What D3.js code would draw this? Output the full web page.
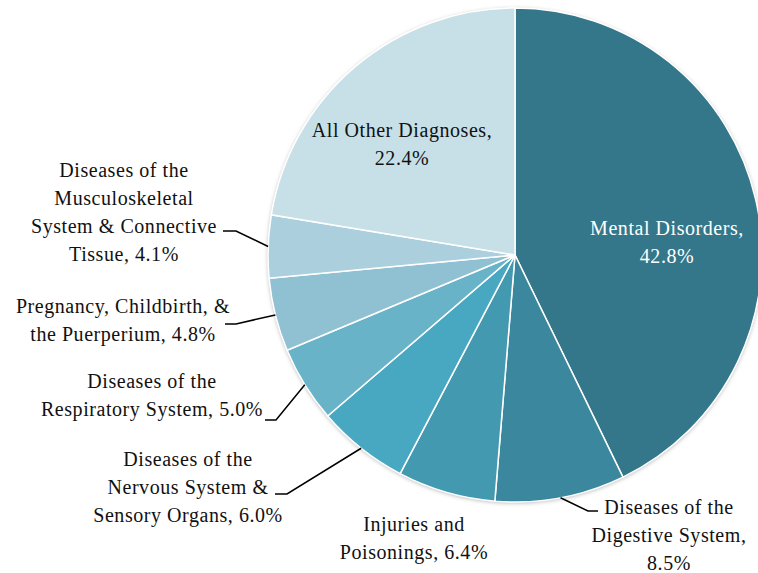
<!DOCTYPE html>
<html>
<head>
<meta charset="utf-8">
<script src="https://cdn.jsdelivr.net/npm/d3@7"></script>
<style>
  body { margin: 0; background: #fff; }
  text { font-family: "Liberation Serif", "Times New Roman", serif; }
</style>
</head>
<body>
<div id="chart"></div>
<script>
const categories = [
  "Mental Disorders",
  "Diseases of the Digestive System",
  "Injuries and Poisonings",
  "Diseases of the Nervous System & Sensory Organs",
  "Diseases of the Respiratory System",
  "Pregnancy, Childbirth, & the Puerperium",
  "Diseases of the Musculoskeletal System & Connective Tissue",
  "All Other Diagnoses"
];
const shares = [42.8, 8.5, 6.4, 6.0, 5.0, 4.8, 4.1, 22.4];
const labelLines = [
  ["Mental Disorders,", "42.8%"],
  ["Diseases of the", "Digestive System,", "8.5%"],
  ["Injuries and", "Poisonings, 6.4%"],
  ["Diseases of the", "Nervous System &", "Sensory Organs, 6.0%"],
  ["Diseases of the", "Respiratory System, 5.0%"],
  ["Pregnancy, Childbirth, &", "the Puerperium, 4.8%"],
  ["Diseases of the", "Musculoskeletal", "System & Connective", "Tissue, 4.1%"],
  ["All Other Diagnoses,", "22.4%"]
];
const colors = ["#34778a", "#3b889e", "#4399b0", "#48a7c1", "#69b3c9", "#90c1d3", "#abcfdc", "#c7dfe7"];

// label layout: text centre + first line y, leader elbow and end (none = no leader)
const layout = [
  { x: 667, y: 228, fill: "#fff" },
  { x: 669, y: 507, elbow: [588, 511], end: [598, 511] },
  { x: 414, y: 524 },
  { x: 188, y: 459, elbow: [287, 494], end: [275, 494] },
  { x: 152, y: 381, elbow: [276, 420], end: [265, 420] },
  { x: 123, y: 306, elbow: [236, 324], end: [225, 324] },
  { x: 124, y: 170, elbow: [236, 231], end: [223, 231] },
  { x: 402, y: 130 }
];

const width = 758, height = 573;
const cx = 515, cy = 255, radius = 247;
const lineH = 28;

const svg = d3.select("#chart").append("svg")
  .attr("width", width)
  .attr("height", height);

const defs = svg.append("defs");
const shadow = defs.append("filter").attr("id", "shadow")
  .attr("x", "-10%").attr("y", "-10%").attr("width", "120%").attr("height", "120%");
shadow.append("feDropShadow")
  .attr("dx", 0).attr("dy", 1)
  .attr("stdDeviation", 2)
  .attr("flood-color", "#000")
  .attr("flood-opacity", 0.3);

const data = categories.map((c, i) => ({ name: c, value: shares[i], i: i }));

const pie = d3.pie().value(d => d.value).sort(null);
const arcs = pie(data);
const arc = d3.arc().innerRadius(0).outerRadius(radius);
const color = d3.scaleOrdinal().domain(categories).range(colors);

const g = svg.append("g").attr("transform", `translate(${cx},${cy})`);

g.append("circle")
  .attr("r", radius)
  .attr("fill", "#fff")
  .attr("filter", "url(#shadow)");

g.selectAll(".slice")
  .data(arcs)
  .enter()
  .append("path")
  .attr("class", "slice")
  .attr("d", arc)
  .attr("fill", d => color(d.data.name))
  .attr("stroke", "#fff")
  .attr("stroke-width", 1.5);

// leader lines
arcs.forEach((d, i) => {
  const l = layout[i];
  if (!l.elbow) return;
  const a = (d.startAngle + d.endAngle) / 2;
  const sx = cx + radius * Math.sin(a);
  const sy = cy - radius * Math.cos(a);
  svg.append("polyline")
    .attr("points", [[sx, sy], l.elbow, l.end].map(p => p.join(",")).join(" "))
    .attr("fill", "none")
    .attr("stroke", "#000")
    .attr("stroke-width", 1.5);
});

// labels
arcs.forEach((d, i) => {
  const l = layout[i];
  const t = svg.append("text")
    .attr("text-anchor", "middle")
    .attr("font-size", 20)
    .attr("letter-spacing", 0.55)
    .attr("fill", l.fill || "#111");
  labelLines[i].forEach((line, k) => {
    t.append("tspan")
      .attr("x", l.x)
      .attr("y", l.y + k * lineH)
      .attr("dy", "0.35em")
      .text(line);
  });
});
</script>
</body>
</html>
